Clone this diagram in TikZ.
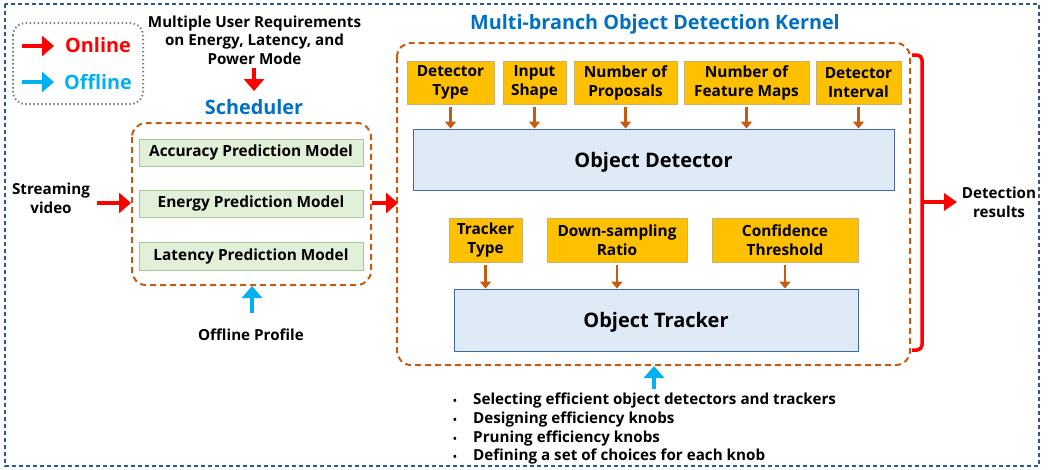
\documentclass[tikz,border=0pt]{standalone}
\usepackage{fontspec}
\setmainfont{Open Sans}
\usetikzlibrary{arrows.meta}
\definecolor{outerblue}{HTML}{2F5597}
\definecolor{titleblue}{HTML}{0070C0}
\definecolor{offcyan}{HTML}{00B0F0}
\definecolor{brownarr}{HTML}{C55A11}
\definecolor{knobfill}{HTML}{FFC000}
\definecolor{knobline}{HTML}{C9B26A}
\definecolor{detfill}{HTML}{DEEBF7}
\definecolor{detline}{HTML}{44689A}
\definecolor{greenfill}{HTML}{E2F0D9}
\definecolor{greenline}{HTML}{A9C59A}
\definecolor{onred}{HTML}{FF0000}
\tikzset{
  txt/.style={font=\fontsize{15.2}{18.6}\selectfont\bfseries, align=center, inner sep=0},
  knob/.style={txt, font=\fontsize{15.4}{19}\selectfont\bfseries, fill=knobfill, draw=knobline, line width=0.8pt, minimum height=43pt},
  bigbox/.style={fill=detfill, draw=detline, line width=0.9pt, inner sep=0, text depth=0pt, font=\fontsize{20}{22}\selectfont\bfseries},
  greenbox/.style={fill=greenfill, draw=greenline, line width=0.8pt, minimum width=224pt, inner sep=0, font=\fontsize{15.4}{18}\selectfont\bfseries},
  bluetitle/.style={txt, text=titleblue, font=\fontsize{19.8}{22}\selectfont\bfseries},
  karrow/.style={draw=brownarr, line width=2.2pt, -{Triangle[length=7pt,width=11pt]}},
  redarrow/.style={draw=onred, line width=4.5pt, -{Triangle[length=12pt,width=20pt]}},
  cyanarrow/.style={draw=offcyan, line width=4.5pt, -{Triangle[length=12pt,width=20pt]}},
  kdash/.style={draw=brownarr, line width=2pt, dash pattern=on 6pt off 4pt, rounded corners=14pt},
}
\newcommand{\blt}{\makebox[21pt][l]{\hspace{1pt}\fontsize{10}{10}\selectfont\textbullet}}
\begin{document}
\begin{tikzpicture}[x=1pt,y=-1pt]
\useasboundingbox (0,0) rectangle (1048,469);
% outer frame
\draw[outerblue, line width=1.6pt, dash pattern=on 4pt off 3pt] (5,4) rectangle (1039,466);
% legend
\draw[gray, line width=2pt, dash pattern=on 1.5pt off 2.5pt, rounded corners=12pt] (13,23) rectangle (143,104);
\coordinate (lo1) at (22,46); \coordinate (lo2) at (54,46);
\coordinate (lf1) at (22,82); \coordinate (lf2) at (54,82);
\draw[redarrow] (lo1) -- (lo2);
\draw[cyanarrow] (lf1) -- (lf2);
\node[bluetitle, text=onred] (lon) at (98,45) {Online};
\node[bluetitle, text=offcyan] (loff) at (98,82) {Offline};
% header requirements
\node[txt] (req) at (254.5,40) {Multiple User Requirements\\on Energy, Latency, and\\Power Mode};
\node[bluetitle] (sched) at (254,107) {Scheduler};
\coordinate (reqA) at (254,68); \coordinate (reqB) at (254,91);
\draw[redarrow] (reqA) -- (reqB);
% scheduler box
\draw[kdash] (132,123) rectangle (371,285);
\coordinate (schedL) at (131,203); \coordinate (schedR) at (372,203);
\coordinate (schedB) at (252,286);
\node[greenbox, minimum height=27pt] (acc) at (251,152.5) {Accuracy Prediction Model};
\node[greenbox, minimum height=27pt] (ene) at (251,203.5) {Energy Prediction Model};
\node[greenbox, minimum height=28pt] (lat) at (251,256) {Latency Prediction Model};
% streaming
\node[txt] (sv) at (51,198) {Streaming\\video};
\coordinate (svA) at (97,203);
\draw[redarrow] (svA) -- (schedL);
% offline profile
\node[txt] (op) at (251,335) {Offline Profile};
\coordinate (opA) at (252,313);
\draw[cyanarrow] (opA) -- (schedB);
% kernel
\node[bluetitle] (ktitle) at (655,24) {Multi-branch Object Detection Kernel};
\draw[kdash] (397,43) rectangle (910,365);
\coordinate (kL) at (398,203);
\draw[redarrow] (schedR) -- (kL);
% detector knobs
\node[knob, minimum width=87pt] (k1) at (450.5,82.5) {Detector\\Type};
\node[knob, minimum width=63pt] (k2) at (534.5,82.5) {Input\\Shape};
\node[knob, minimum width=103pt] (k3) at (625.5,82.5) {Number of\\Proposals};
\node[knob, minimum width=125pt] (k4) at (746.5,82.5) {Number of\\Feature Maps};
\node[knob, minimum width=85pt] (k5) at (858.5,82.5) {Detector\\Interval};
\node[bigbox, minimum width=481pt, minimum height=61pt] (od) at (653.5,159.5) {Object Detector};
\foreach \k in {k1,k2,k3,k4,k5}{
  \draw[karrow] ([yshift=-3pt]\k.south) -- (\k.south |- od.north);
}
% tracker knobs
\node[knob, minimum width=73pt, minimum height=44pt] (t1) at (485.5,240) {Tracker\\Type};
\node[knob, minimum width=140pt, minimum height=44pt] (t2) at (617,240) {Down-sampling\\Ratio};
\node[knob, minimum width=146pt, minimum height=44pt] (t3) at (785,240) {Confidence\\Threshold};
\node[bigbox, minimum width=404pt, minimum height=62pt] (ot) at (656,320) {Object Tracker};
\foreach \k in {t1,t2,t3}{
  \draw[karrow] ([yshift=-3pt]\k.south) -- (\k.south |- ot.north);
}
% bracket to detection results
\draw[onred, line width=3.5pt, rounded corners=5pt] (912,55) -- (922,55) -- (922,350) -- (912,350);
\coordinate (brM) at (921,202);
\coordinate (brT) at (957,202);
\node[txt] (dr) at (999,202) {Detection\\results};
\draw[draw=onred, line width=3.5pt, -{Triangle[length=13pt,width=17pt]}] (brM) -- (brT);
% bottom cyan arrow
\coordinate (kB) at (654,366);
\coordinate (kBA) at (654,389);
\draw[cyanarrow] (kBA) -- (kB);
% bullet list
\node[txt, anchor=north west, align=left] (bl) at (452,393) {%
\blt Selecting efficient object detectors and trackers\\
\blt Designing efficiency knobs\\
\blt Pruning efficiency knobs\\
\blt Defining a set of choices for each knob};
\end{tikzpicture}
\end{document}
